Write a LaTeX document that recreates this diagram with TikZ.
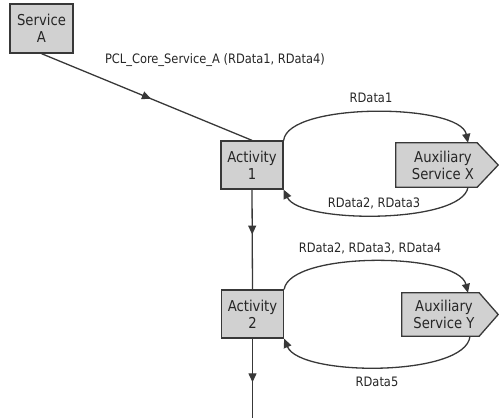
\documentclass[tikz,border=0pt]{standalone}
\usepackage{fontspec}
\setmainfont[FakeStretch=0.88]{DejaVu Sans}
\usetikzlibrary{arrows.meta,decorations.markings,calc}
\pgfdeclarelayer{bg}
\pgfsetlayers{bg,main}
\definecolor{boxfill}{gray}{0.82}
\definecolor{edgegray}{gray}{0.22}
\definecolor{txtgray}{gray}{0.15}
\begin{document}
\begin{tikzpicture}[x=1bp,y=-1bp,
  tip/.style={-{Triangle[length=9bp,width=8bp]}},
  conn/.style={draw=edgegray, line width=1.3bp},
  midarrow/.style={postaction={decorate},
    decoration={markings, mark=at position #1 with {\arrow{Triangle[length=9bp,width=8bp]}}}},
  actbox/.style={draw=edgegray, fill=boxfill, line width=1.3bp, inner sep=0pt,
    minimum width=62bp, minimum height=48bp, align=center, text=txtgray,
    font=\fontsize{15bp}{17bp}\selectfont},
  auxtext/.style={inner sep=0pt, align=center, text=txtgray,
    font=\fontsize{15bp}{17bp}\selectfont},
  auxshape/.style={draw=edgegray, fill=boxfill, line width=1.3bp, line join=miter},
  lbl/.style={inner sep=0pt, text=txtgray, font=\fontsize{13bp}{15bp}\selectfont}
]
\useasboundingbox (0,0) rectangle (499,418);

% process boxes
\node[actbox, minimum width=63bp, minimum height=49bp] (sa) at (41.5,28.5) {Service\\A};
\node[actbox] (a1) at (252,165) {Activity\\1};
\node[actbox] (a2) at (252.5,314) {Activity\\2};

% auxiliary services (pointed boxes)
\node[auxtext, minimum width=94bp, minimum height=44bp] (ax) at (443,165) {Auxiliary\\Service X};
\node[auxtext, minimum width=84bp, minimum height=43bp] (ay) at (444,314.5) {Auxiliary\\Service Y};
\begin{pgfonlayer}{bg}
  \draw[auxshape] (ax.north west) -- ([xshift=-13bp]ax.north east) -- ([xshift=8bp]ax.east)
    -- ([xshift=-13bp]ax.south east) -- (ax.south west) -- cycle;
  \draw[auxshape] (ay.north west) -- ([xshift=-7bp]ay.north east) -- ([xshift=12bp]ay.east)
    -- ([xshift=-7bp]ay.south east) -- (ay.south west) -- cycle;
\end{pgfonlayer}

\coordinate (flowend) at (252.5,418);

% main flow
\draw[conn, midarrow=0.52] (sa.south) -- (a1.north);
\draw[conn, midarrow=0.45] (a1.south) -- (a2.north);
\draw[conn, midarrow=0.55] (a2.south) -- (flowend);

% requests and replies
\draw[conn, tip] (a1.north east) .. controls (288,102) and (460,103) .. ($(ax.north)+(25,0)$);
\draw[conn, tip] ($(ax.south)+(25,0)$) .. controls (462,224) and (300,224) .. (a1.south east);
\draw[conn, tip] (a2.north east) .. controls (290,251) and (458,252) .. ($(ay.north)+(24,0)$);
\draw[conn, tip] ($(ay.south)+(26,0)$) .. controls (466,377) and (300,377) .. (a2.south east);

% labels
\node[lbl] (lcall) at (215,60) {PCL\_Core\_Service\_A (RData1, RData4)};
\node[lbl] (lx1) at (371,98) {RData1};
\node[lbl] (lx2) at (374,203) {RData2, RData3};
\node[lbl] (ly1) at (370,248) {RData2, RData3, RData4};
\node[lbl] (ly2) at (377,382) {RData5};
\end{tikzpicture}
\end{document}
